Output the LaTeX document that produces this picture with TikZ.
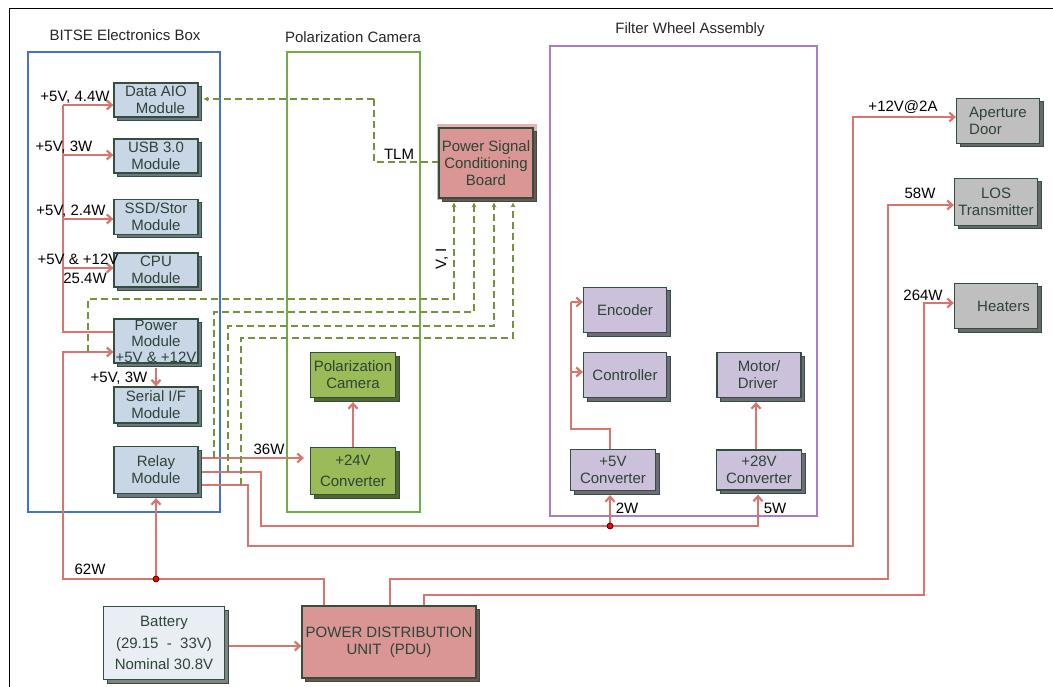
\documentclass[tikz,border=0pt]{standalone}
\usepackage{fontspec}
\setmainfont{Liberation Sans}
\usetikzlibrary{arrows.meta,shadows}
\definecolor{pwred}{RGB}{215,117,110}
\definecolor{dgreen}{RGB}{118,146,60}
\definecolor{bord}{RGB}{50,80,62}
\definecolor{btxt}{RGB}{45,68,55}
\definecolor{modfill}{RGB}{200,214,229}
\definecolor{pcfill}{RGB}{155,187,89}
\definecolor{fwfill}{RGB}{204,193,218}
\definecolor{gryfill}{RGB}{191,191,191}
\definecolor{pdufill}{RGB}{217,150,148}
\definecolor{batfill}{RGB}{233,238,244}
\definecolor{bluebox}{RGB}{68,114,196}
\definecolor{greenbox}{RGB}{112,173,71}
\definecolor{purplebox}{RGB}{165,125,200}
\definecolor{halo}{RGB}{232,178,176}
\newcommand\dfont{\fontsize{15}{17}\selectfont}
\tikzset{
 blk/.style={draw=bord, line width=1.2pt, fill=#1, text=btxt, font=\dfont, align=center, inner sep=0pt,
   general shadow={fill=#1!55!black, draw=bord, line width=1pt, shadow xshift=3.5pt, shadow yshift=-3.5pt}},
 pw/.style={draw=pwred, line width=2.2pt},
 pwa/.style={pw, -{Straight Barb[length=5pt,width=9pt]}},
 dsh/.style={draw=dgreen, line width=2.4pt, dash pattern=on 7pt off 4pt},
 dsha/.style={dsh, -{Stealth[length=5pt,width=5pt]}},
 lbl/.style={font=\dfont, text=black, inner sep=0pt},
 ttl/.style={font=\dfont, text=black!85, inner sep=0pt},
 cont/.style={line width=1.3pt},
 jdot/.style={circle, fill=red, draw=black, line width=0.6pt, minimum size=6pt, inner sep=0pt},
}
\begin{document}
\begin{tikzpicture}[x=1pt,y=-1pt]
\useasboundingbox (0,0) rectangle (1053,687);
% frame
\draw[black, line width=1pt] (9,687) -- (9,9) -- (1053,9);
% containers
\draw[cont, draw=bluebox] (28,52) rectangle (220,512);
\draw[cont, draw=greenbox] (287,52) rectangle (420,512);
\draw[cont, draw=purplebox] (550,46) rectangle (817,516);
\node[ttl] (t1) at (125,35) {BITSE Electronics Box};
\node[ttl] (t2) at (353,37) {Polarization Camera};
\node[ttl] (t3) at (690,30) {Filter Wheel Assembly};
% BITSE modules
\node[blk=modfill, minimum width=84pt, minimum height=34pt] (aio) at (156,100) {Data AIO\\\hspace*{0.6em}Module};
\node[blk=modfill, minimum width=84pt, minimum height=34pt] (usb) at (156,156) {USB 3.0\\Module};
\node[blk=modfill, minimum width=84pt, minimum height=35pt] (ssd) at (156,217) {SSD/Stor\\Module};
\node[blk=modfill, minimum width=84pt, minimum height=34pt] (cpu) at (156,270) {CPU\\Module};
\node[blk=modfill, minimum width=84pt, minimum height=44pt, font=\fontsize{15}{16}\selectfont] (pwr) at (156,341) {Power\\Module\\+5V \& +12V};
\node[blk=modfill, minimum width=84pt, minimum height=36pt] (ser) at (156,405) {Serial I/F\\Module};
\node[blk=modfill, minimum width=84pt, minimum height=47pt] (rly) at (156,470) {Relay\\Module};
% polarization camera
\node[blk=pcfill, minimum width=85pt, minimum height=45pt] (pcam) at (353,375) {Polarization\\Camera};
\node[blk=pcfill, minimum width=85pt, minimum height=47pt] (conv24) at (353,471) {+24V\\[4pt]Converter};
% PSCB
\fill[halo] (437,124) rectangle (537,200);
\node[blk=pdufill, minimum width=94pt, minimum height=70pt] (pscb) at (486,163) {Power Signal\\Conditioning\\Board};
% filter wheel
\node[blk=fwfill, minimum width=83pt, minimum height=45pt] (enc) at (625,310) {Encoder};
\node[blk=fwfill, minimum width=83pt, minimum height=45pt] (ctl) at (625,375) {Controller};
\node[blk=fwfill, minimum width=84pt, minimum height=45pt, align=left] (mot) at (759,375) {Motor/\\Driver};
\node[blk=fwfill, minimum width=85pt, minimum height=41pt] (c5) at (613,470) {+5V\\Converter};
\node[blk=fwfill, minimum width=85pt, minimum height=40pt] (c28) at (759,470) {+28V\\Converter};
% right side
\node[blk=gryfill, minimum width=83pt, minimum height=45pt, align=left] (ap) at (998,121) {Aperture\\Door};
\node[blk=gryfill, minimum width=83pt, minimum height=47pt] (los) at (996,202) {LOS\\Transmitter};
\node[blk=gryfill, minimum width=83pt, minimum height=45pt] (heat) at (996,306) {\hspace*{1em}Heaters};
% bottom
\node[blk=pdufill, minimum width=174pt, minimum height=72pt] (pdu) at (389,642) {POWER DISTRIBUTION\\UNIT\ \ (PDU)};
\node[blk=batfill, minimum width=121pt, minimum height=73pt, font=\fontsize{15}{21.5}\selectfont] (bat) at (164,643) {Battery\\(29.15\ \ -\ \ 33V)\\Nominal 30.8V};

% ---- red power lines ----
\draw[pw] (pwr.west |- 0,332) -- (63,332) -- (63,105);
\draw[pwa] (63,105) -- (aio.west |- 0,105);
\draw[pwa] (63,155) -- (usb.west |- 0,155);
\draw[pwa] (63,219) -- (ssd.west |- 0,219);
\draw[pwa] (63,268) -- (cpu.west |- 0,268);
\draw[pwa] (pdu.north -| 324,0) -- (324,579) -- (63,579) -- (63,352) -- (pwr.west |- 0,352);
\draw[pwa, shorten >=4pt] (rly.south |- 0,579) -- (rly.south);
\draw[pwa, shorten <=4pt] (pwr.south) -- (ser.north);
\draw[pwa, shorten >=6pt] ([xshift=3pt]rly.east |- 0,458) -- (conv24.west |- 0,458);
\draw[pwa, shorten >=4pt] ([xshift=3pt]rly.east |- 0,472) -- (261,472) -- (261,526) -- (758,526) -- (c28.south -| 758,0);
\draw[pwa, shorten >=4pt] (610,526) -- (c5.south -| 610,0);
\draw[pwa] ([xshift=3pt]rly.east |- 0,485) -- (248,485) -- (248,546) -- (853,546) -- (853,117) -- (ap.west |- 0,117);
\draw[pwa] (pdu.north -| 390,0) -- (390,579) -- (888,579) -- (888,205) -- (los.west |- 0,205);
\draw[pwa] (pdu.north -| 424,0) -- (424,595) -- (924,595) -- (924,303) -- (heat.west |- 0,303);
\draw[pwa, shorten <=4pt] (bat.east |- 0,646) -- (pdu.west |- 0,646);
\draw[pwa, shorten >=4pt] (conv24.north) -- (pcam.south);
\draw[pw] (c5.north -| 610,0) -- (610,429) -- (571,429) -- (571,302);
\draw[pwa] (571,302) -- (enc.west |- 0,302);
\draw[pwa] (571,372) -- (ctl.west |- 0,372);
\draw[pwa, shorten >=4pt] (c28.north -| 756,0) -- (mot.south -| 756,0);
\node[jdot] (j1) at (rly.south |- 0,579) {};
\node[jdot] (j2) at (610,526) {};

% ---- dashed signal lines ----
\draw[dsha] (374,99) -- ([xshift=5pt]aio.east |- 0,99);
\draw[dsh] (374,99) -- (374,162) -- (pscb.west |- 0,162);
\draw[dsha, shorten >=4pt] (88,352) -- (88,299) -- (454,299) -- (pscb.south -| 454,0);
\draw[dsha, shorten >=4pt] (214,458) -- (214,312) -- (474,312) -- (pscb.south -| 474,0);
\draw[dsha, shorten >=4pt] (228,472) -- (228,326) -- (494,326) -- (pscb.south -| 494,0);
\draw[dsha, shorten >=4pt] (241,485) -- (241,338) -- (513,338) -- (pscb.south -| 513,0);

% ---- labels ----
\node[lbl] (l1) at (75,97) {+5V, 4.4W};
\node[lbl] (l2) at (64,147) {+5V, 3W};
\node[lbl] (l3) at (71,211) {+5V, 2.4W};
\node[lbl] (l4) at (78,259) {+5V \& +12V};
\node[lbl] (l5) at (85,278) {25.4W};
\node[lbl] (l6) at (119,378) {+5V, 3W};
\node[lbl] (l7) at (269,449) {36W};
\node[lbl, fill=white, inner sep=1pt] (l8) at (399,154) {TLM};
\node[lbl, rotate=90] (l9) at (442,259) {V, I};
\node[lbl] (l10) at (627,508) {2W};
\node[lbl] (l11) at (775,508) {5W};
\node[lbl] (l12) at (903,107) {+12V@2A};
\node[lbl] (l13) at (920,193) {58W};
\node[lbl] (l14) at (923,295) {264W};
\node[lbl] (l15) at (90,569) {62W};
\end{tikzpicture}
\end{document}
